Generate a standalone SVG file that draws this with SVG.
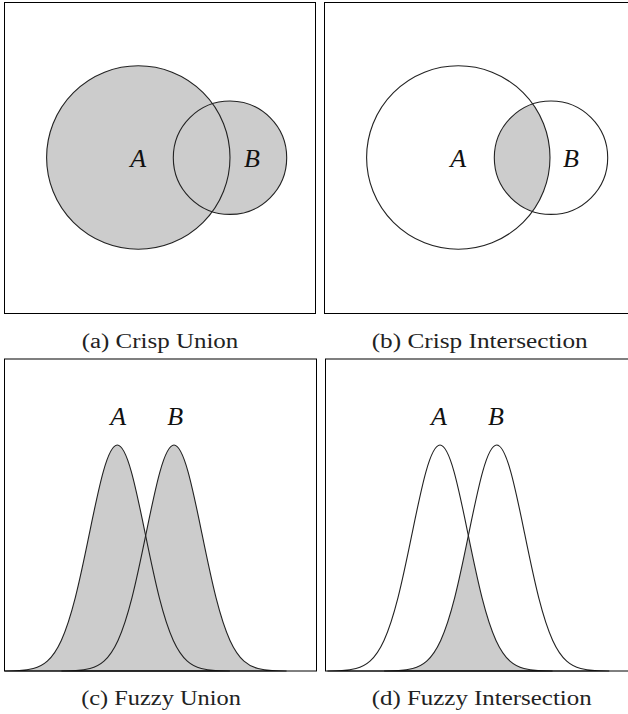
<svg xmlns="http://www.w3.org/2000/svg" xmlns:xlink="http://www.w3.org/1999/xlink" width="628" height="714" viewBox="0 0 628 714">
<style>
.box{fill:none;stroke:#000;stroke-width:1}
.shade{fill:#cccccc;stroke:none}
.line{fill:none;stroke:#222;stroke-width:1.1}
.lab{font-family:"Liberation Serif","Times New Roman",serif;font-style:italic;font-size:26px;fill:#111;text-anchor:middle}
.cap{font-family:"Liberation Serif","Times New Roman",serif;font-size:20.5px;fill:#222;text-anchor:middle}
</style>
<defs>
<path id="gauss" d="M -112 -0.075 C -107.333 -0.125 -102.667 -0.206 -98 -0.494 C -93.333 -0.782 -88.667 -1.256 -84 -2.511 C -79.333 -3.766 -74.667 -5.792 -70 -9.930 C -65.333 -14.068 -60.667 -20.391 -56 -30.587 C -51.333 -40.783 -46.667 -55.028 -42 -73.371 C -37.333 -91.714 -32.667 -114.230 -28 -137.076 C -23.333 -159.922 -18.667 -182.824 -14 -199.445 C -9.333 -216.066 -4.667 -226 0 -226 C 4.667 -226 9.333 -216.066 14 -199.445 C 18.667 -182.824 23.333 -159.922 28 -137.076 C 32.667 -114.230 37.333 -91.714 42 -73.371 C 46.667 -55.028 51.333 -40.783 56 -30.587 C 60.667 -20.391 65.333 -14.068 70 -9.930 C 74.667 -5.792 79.333 -3.766 84 -2.511 C 88.667 -1.256 93.333 -0.782 98 -0.494 C 102.667 -0.206 107.333 -0.125 112 -0.075 L 112 0 L -112 0 Z"/>
<clipPath id="clipCircA">
<circle cx="458.3" cy="157.5" r="91.7"/>
</clipPath>
<clipPath id="clipGaussA">
<use xlink:href="#gauss" transform="translate(440,671)"/>
</clipPath>
</defs>

<g id="panel-a">
<circle class="shade" cx="138.3" cy="157.5" r="91.7"/>
<circle class="shade" cx="230" cy="157.7" r="56.7"/>
<circle class="line" cx="138.3" cy="157.5" r="91.7"/>
<circle class="line" cx="230" cy="157.7" r="56.7"/>
<text class="lab" x="138.3" y="166.5">A</text>
<text class="lab" x="252" y="166.5">B</text>
<rect class="box" x="4.5" y="2.5" width="311" height="311"/>
<text class="cap" x="160" y="348.3" textLength="156.7" lengthAdjust="spacingAndGlyphs">(a) Crisp Union</text>
</g>

<g id="panel-b">
<circle class="shade" cx="551" cy="157.7" r="56.7" clip-path="url(#clipCircA)"/>
<circle class="line" cx="458.3" cy="157.5" r="91.7"/>
<circle class="line" cx="551" cy="157.7" r="56.7"/>
<text class="lab" x="458.3" y="166.5">A</text>
<text class="lab" x="571" y="166.5">B</text>
<rect class="box" x="324.5" y="2.5" width="311" height="311"/>
<text class="cap" x="479.7" y="348.3" textLength="216" lengthAdjust="spacingAndGlyphs">(b) Crisp Intersection</text>
</g>

<g id="panel-c">
<use xlink:href="#gauss" class="shade" transform="translate(117.3,671)"/>
<use xlink:href="#gauss" class="shade" transform="translate(174,671)"/>
<use xlink:href="#gauss" class="line" transform="translate(117.3,671)"/>
<use xlink:href="#gauss" class="line" transform="translate(174,671)"/>
<text class="lab" x="118.3" y="424.5">A</text>
<text class="lab" x="175.3" y="424.5">B</text>
<rect class="box" x="4.5" y="359" width="312" height="312"/>
<text class="cap" x="161" y="704.5" textLength="159.7" lengthAdjust="spacingAndGlyphs">(c) Fuzzy Union</text>
</g>

<g id="panel-d">
<g clip-path="url(#clipGaussA)">
<use xlink:href="#gauss" class="shade" transform="translate(496.7,671)"/>
</g>
<use xlink:href="#gauss" class="line" transform="translate(440,671)"/>
<use xlink:href="#gauss" class="line" transform="translate(496.7,671)"/>
<text class="lab" x="439" y="424.5">A</text>
<text class="lab" x="496" y="424.5">B</text>
<rect class="box" x="325.5" y="359" width="312" height="312"/>
<text class="cap" x="481.7" y="705" textLength="220" lengthAdjust="spacingAndGlyphs">(d) Fuzzy Intersection</text>
</g>
</svg>
